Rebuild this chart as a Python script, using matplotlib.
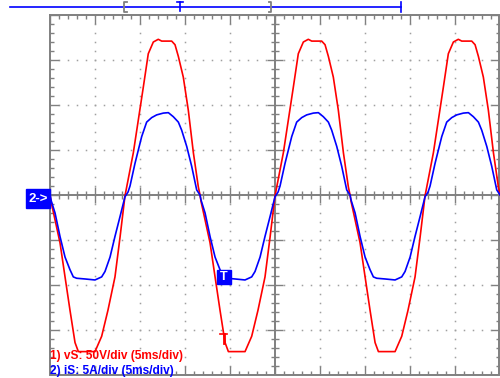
import numpy as np
import matplotlib
matplotlib.use("Agg")
import matplotlib.pyplot as plt
from matplotlib.collections import LineCollection
from matplotlib.patches import Rectangle

# ---- acquired waveforms: one mains cycle (time in ms), repeated over the record ----
period_ms = 16.67
n_cycles = 3

t_vs = [0, 0.11, 1.11, 1.67, 2.22, 2.78, 3.15, 5.0, 5.74, 6.44, 7.22, 7.78, 8.33,
        9.26, 10.37, 10.92, 11.48, 12.03, 12.41, 12.97, 13.52, 13.89, 14.26,
        14.81, 15.37, 15.93, 16.48]
vs_volts = [0, -7, -53, -91, -128, -164, -174, -174, -157, -128, -91, -47, -1,
            47, 120, 157, 170, 173, 171, 171, 171, 167, 154, 131, 94, 47, 9]

t_is = [0, 0.11, 0.56, 1.11, 1.67, 2.22, 2.59, 2.96, 3.89, 5.0, 5.74, 6.11, 6.67,
        7.22, 7.78, 8.33, 8.67, 8.89, 9.44, 10.19, 10.74, 11.3, 11.85, 12.59,
        13.15, 13.7, 14.26, 14.63, 15.19, 15.74, 16.3]
is_amps = [0, -0.56, -2.0, -4.6, -6.9, -8.3, -9.1, -9.25, -9.33, -9.44, -9.1, -8.5,
           -6.9, -4.6, -2.4, -0.2, 0.33, 1.0, 3.5, 6.5, 8.1, 8.6, 8.9, 9.1, 9.15,
           8.7, 8.1, 7.2, 5.4, 3.2, 0.56]

# channel settings
volts_per_div = 50.0
amps_per_div = 5.0
ms_per_div = 5.0
n_xdiv, n_ydiv = 10, 8

legend_vs = "1) vS: 50V/div (5ms/div)"
legend_is = "2) iS: 5A/div (5ms/div)"

RED = "#ff0000"
BLUE = "#0000ff"
GRAY = "#808080"
DOT = "#a0a0a0"


def record(t_cycle, values):
    t = np.concatenate([np.asarray(t_cycle) + k * period_ms for k in range(n_cycles)])
    y = np.concatenate([np.asarray(values, dtype=float)] * n_cycles)
    return np.append(t, n_cycles * period_ms), np.append(y, 0.0)


W, H = 500, 378
fig = plt.figure(figsize=(W / 100, H / 100), dpi=100)
fig.patch.set_facecolor("white")

# screen area: x 50..500 px, y 15..375 px
ax = fig.add_axes([50 / W, (H - 375) / H, 450 / W, 360 / H])
xmax = n_xdiv * ms_per_div
ax.set_xlim(0, xmax)
ax.set_ylim(-n_ydiv / 2, n_ydiv / 2)
ax.axis("off")

px_x = ms_per_div / 45.0   # ms per pixel
px_y = 1 / 45.0            # div per pixel

# dotted graticule
dx, dy = [], []
for xv in np.arange(ms_per_div, xmax, ms_per_div):
    if abs(xv - xmax / 2) < 1e-6:
        continue
    for yv in np.arange(-4, 4.001, 0.2):
        dx.append(xv); dy.append(yv)
for yv in [-3, -2, -1, 1, 2, 3]:
    for xv in np.arange(0, xmax + 0.001, 1.0):
        dx.append(xv); dy.append(yv)
ax.plot(dx, dy, ls="none", marker="s", ms=1.1, mew=0, color=DOT, zorder=1)

segs = []
# minor/major ticks on the frame and centre axes
for xv in np.arange(0, xmax + 0.001, 1.0):
    major = abs(xv / ms_per_div - round(xv / ms_per_div)) < 1e-6
    L = (9 if major else 4) * px_y
    c = (8 if major else 4) * px_y
    segs.append([(xv, 4), (xv, 4 - L)])
    segs.append([(xv, -4), (xv, -4 + L)])
    segs.append([(xv, -c), (xv, c)])
for yv in np.arange(-4, 4.001, 0.2):
    major = abs(yv - round(yv)) < 1e-6
    L = (9 if major else 4) * px_x
    c = (8 if major else 4) * px_x
    segs.append([(0, yv), (L, yv)])
    segs.append([(xmax, yv), (xmax - L, yv)])
    segs.append([(xmax / 2 - c, yv), (xmax / 2 + c, yv)])
ax.add_collection(LineCollection(segs, colors=GRAY, linewidths=1.0, zorder=2))

# frame and centre axes
xr = xmax - 0.6 * px_x
ax.plot([0, xr, xr, 0, 0], [4, 4, -4, -4, 4], color=GRAY, lw=1.4, zorder=2,
        clip_on=False, solid_joinstyle="miter")
ax.plot([xmax / 2, xmax / 2], [-4, 4], color=GRAY, lw=1.4, zorder=2)
ax.plot([0, xmax], [0, 0], color=GRAY, lw=1.4, zorder=2)

# traces
tv, yv_ = record(t_vs, vs_volts)
ti, yi_ = record(t_is, is_amps)
ax.plot(tv, yv_ / volts_per_div, color=RED, lw=1.2, zorder=4)
ax.plot(ti, yi_ / amps_per_div, color=BLUE, lw=1.2, zorder=5)

# overlay in pixel coordinates for screen annotations
ov = fig.add_axes([0, 0, 1, 1], zorder=10)
ov.set_xlim(0, W)
ov.set_ylim(H, 0)
ov.axis("off")
ov.patch.set_alpha(0)

# record-length bar
ov.plot([10, 401], [7, 7], color=BLUE, lw=1.2)
ov.plot([401, 401], [2, 12], color=BLUE, lw=1.2)
ov.plot([177, 183], [2, 2], color=BLUE, lw=1.2)
ov.plot([180, 180], [2, 11], color=BLUE, lw=1.2)
ov.plot([126.5, 124, 124, 126.5], [2, 2, 12, 12], color=GRAY, lw=1.3)
ov.plot([268.5, 271, 271, 268.5], [2, 2, 12, 12], color=GRAY, lw=1.3)

# channel 2 ground marker
ov.add_patch(Rectangle((26, 189), 24, 19, color=BLUE, zorder=11))
ov.text(38, 198.5, "2->", color="white", fontsize=9.5, fontweight="bold",
        family="Liberation Sans", ha="center", va="center", zorder=12)

# trigger marker on channel 2
ov.add_patch(Rectangle((217, 270), 14, 14, color=BLUE, zorder=11))
ov.text(224, 277.5, "T", color="white", fontsize=9, fontweight="bold",
        family="Liberation Sans", ha="center", va="center", zorder=12)

# cursor marker on channel 1
ov.plot([220, 227], [334, 334], color=RED, lw=1.2)
ov.plot([223.5, 223.5], [334, 343], color=RED, lw=2.0)

# channel legends
ov.text(50, 356.5, legend_vs, color=RED, fontsize=8.6, fontweight="bold",
        family="Liberation Sans", ha="left", va="center")
ov.text(50, 371, legend_is, color=BLUE, fontsize=8.6, fontweight="bold",
        family="Liberation Sans", ha="left", va="center")

fig.savefig("out.png", dpi=100, facecolor="white")
